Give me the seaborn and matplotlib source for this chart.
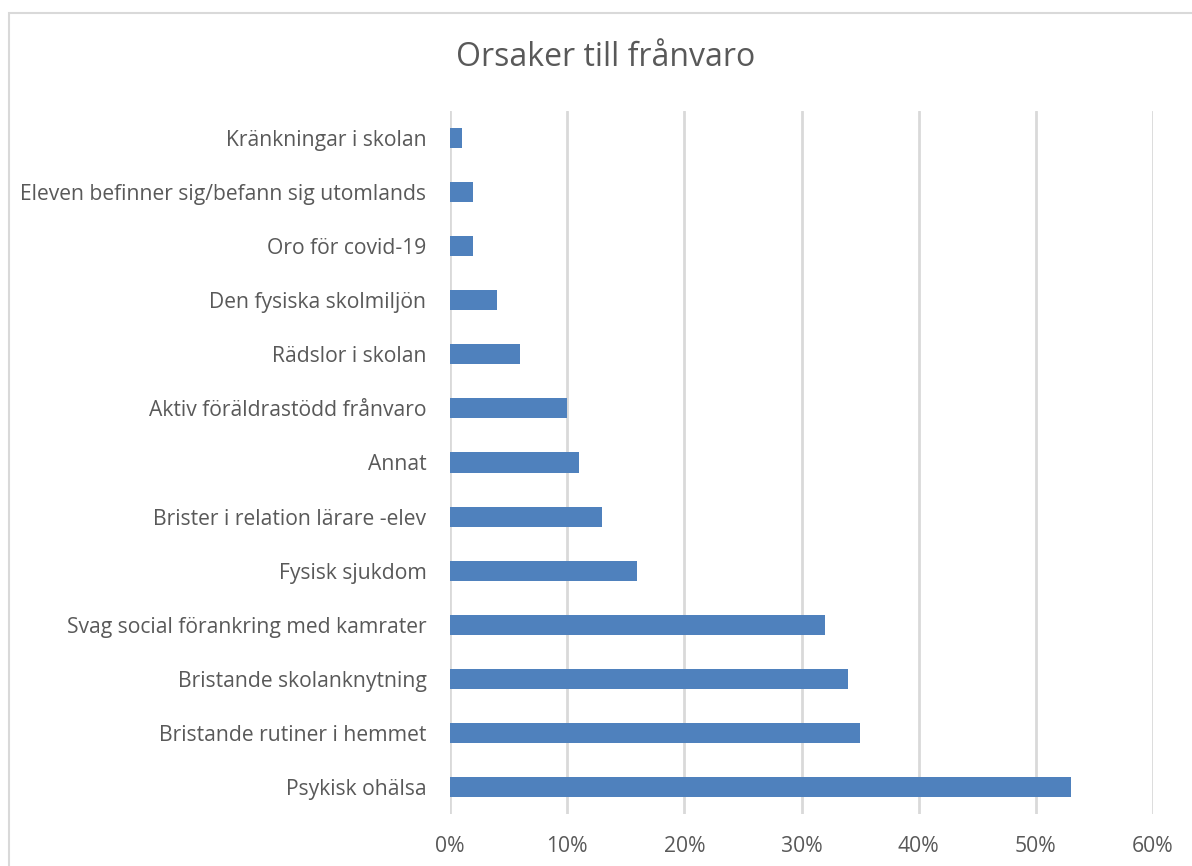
"""Horizontal bar chart: Orsaker till frånvaro."""
import matplotlib

matplotlib.use("Agg")
import matplotlib.pyplot as plt
import pandas as pd
import seaborn as sns
from matplotlib.patches import Rectangle
from matplotlib.ticker import FuncFormatter

reasons = [
    "Kränkningar i skolan",
    "Eleven befinner sig/befann sig utomlands",
    "Oro för covid-19",
    "Den fysiska skolmiljön",
    "Rädslor i skolan",
    "Aktiv föräldrastödd frånvaro",
    "Annat",
    "Brister i relation lärare -elev",
    "Fysisk sjukdom",
    "Svag social förankring med kamrater",
    "Bristande skolanknytning",
    "Bristande rutiner i hemmet",
    "Psykisk ohälsa",
]
shares = [0.01, 0.02, 0.02, 0.04, 0.06, 0.10, 0.11, 0.13, 0.16, 0.32, 0.34, 0.35, 0.53]
x_ticks = [0, 0.1, 0.2, 0.3, 0.4, 0.5, 0.6]

BLUE, INK, GRID = "#4F81BD", "#595959", "#D9D9D9"

sns.set_theme(style="white")
plt.rcParams["font.family"] = ["Open Sans", "DejaVu Sans"]

df = pd.DataFrame({"reason": reasons, "share": shares})

fig = plt.figure(figsize=(11.92, 8.66), dpi=100)
ax = fig.add_axes([450 / 1192, 1 - 814 / 866, 703 / 1192, 703 / 866])

sns.barplot(data=df, x="share", y="reason", orient="h", color=BLUE,
            width=0.37, saturation=1, linewidth=0, ax=ax, order=reasons)

ax.set_xlim(0, 0.6)
ax.set_xticks(x_ticks)
ax.xaxis.set_major_formatter(FuncFormatter(lambda v, _: f"{v * 100:.0f}%"))
ax.grid(axis="x", color=GRID, lw=2)
ax.set_axisbelow(True)
for s in ax.spines.values():
    s.set_visible(False)
ax.tick_params(axis="both", length=0, colors=INK, labelsize=15.2)
ax.tick_params(axis="y", pad=17)
ax.tick_params(axis="x", pad=16)
ax.set_xlabel("")
ax.set_ylabel("")

fig.text(606 / 1192, 1 - 58 / 866, "Orsaker till frånvaro", ha="center",
         va="center", fontsize=23, color=INK)

fig.patches.append(Rectangle((9 / 1192, -0.1), 1.1, 1 - 13 / 866 + 0.1,
                             transform=fig.transFigure, fill=False,
                             edgecolor=GRID, lw=1.5))

fig.savefig("out.png", dpi=100)
